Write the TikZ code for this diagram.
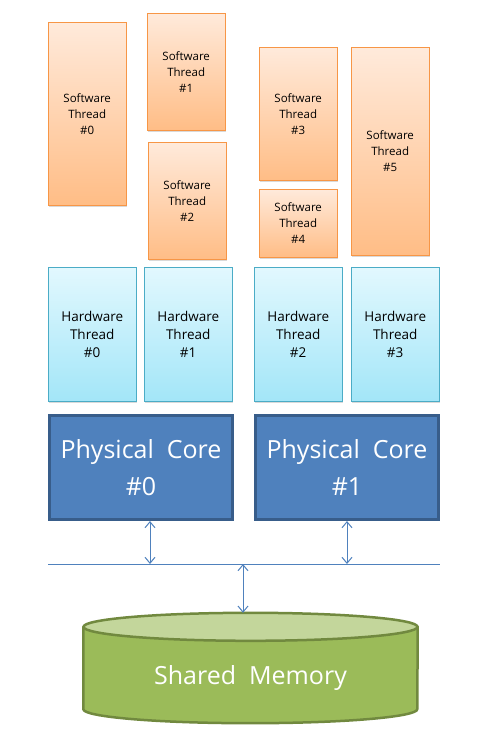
\documentclass[tikz,border=0pt]{standalone}
\usepackage{fontspec}
\setmainfont{Open Sans}
\usetikzlibrary{arrows.meta,shadows,backgrounds}

\definecolor{swline}{HTML}{F79646}
\definecolor{swtop}{HTML}{FFEADB}
\definecolor{swbot}{HTML}{FFBD86}
\definecolor{hwline}{HTML}{4BACC6}
\definecolor{hwtop}{HTML}{E2F8FE}
\definecolor{hwbot}{HTML}{A3E6F8}
\definecolor{coreline}{HTML}{385D8A}
\definecolor{corefill}{HTML}{4F81BD}
\definecolor{memline}{HTML}{71893F}
\definecolor{membody}{HTML}{9BBB59}
\definecolor{memtopc}{HTML}{C3D69B}

\begin{document}
\begin{tikzpicture}[x=1pt,y=-1pt]
        \useasboundingbox (0,0) rectangle (480,744);
        \tikzstyle{BoxStyle}=[anchor=north west, align=center, inner sep=0pt,
          drop shadow={shadow xshift=1pt, shadow yshift=-2pt, opacity=0.3}]
        \tikzstyle{SwStyle}=[BoxStyle, draw=swline, top color=swtop, bottom color=swbot,
          font=\fontsize{11.5}{16}\selectfont, minimum width=78pt]
        \tikzstyle{HwStyle}=[BoxStyle, draw=hwline, top color=hwtop, bottom color=hwbot,
          font=\fontsize{13.5}{18}\selectfont, minimum width=88pt, minimum height=134pt]
        \tikzstyle{CoreStyle}=[anchor=north west, align=center, inner sep=0pt,
          draw=coreline, line width=3pt, fill=corefill, text=white,
          font=\fontsize{25}{37}\selectfont, minimum width=183pt, minimum height=104pt]
        \tikzstyle{MemStyle}=[draw=memline, line width=2.5pt, line join=round]
        \tikzstyle{BusStyle}=[draw=corefill, line width=1pt]
        \tikzstyle{LinkStyle}=[BusStyle, {Straight Barb[length=6pt,width=10pt]}-{Straight Barb[length=6pt,width=10pt]}]
        % software threads
        \node[SwStyle, minimum height=183pt] (sw0) at (48,22) {Software\\Thread\\\#0};
        \node[SwStyle, minimum height=117pt] (sw1) at (147,13) {Software\\Thread\\\#1};
        \node[SwStyle, minimum height=117pt] (sw2) at (148,142) {Software\\Thread\\\#2};
        \node[SwStyle, minimum height=133pt] (sw3) at (259,47) {Software\\Thread\\\#3};
        \node[SwStyle, minimum height=68pt] (sw4) at (259,189) {Software\\Thread\\\#4};
        \node[SwStyle, minimum height=208pt] (sw5) at (351,47) {Software\\Thread\\\#5};
        % hardware threads
        \node[HwStyle] (hw0) at (48,267) {Hardware\\Thread\\\#0};
        \node[HwStyle] (hw1) at (144,267) {Hardware\\Thread\\\#1};
        \node[HwStyle] (hw2) at (254,267) {Hardware\\Thread\\\#2};
        \node[HwStyle] (hw3) at (351,267) {Hardware\\Thread\\\#3};
        % physical cores
        \node[CoreStyle] (core0) at (48,414) {Physical\ \ Core\\\#0};
        \node[CoreStyle] (core1) at (254,414) {Physical\ \ Core\\\#1};
        % shared memory
        \node[inner sep=0pt, minimum width=334pt, minimum height=82pt,
          label={[text=white, font=\fontsize{25}{30}\selectfont, yshift=-10pt]center:Shared\ \ Memory}]
          (mem) at (250.5,668) {};
        \coordinate (memtop) at ([yshift=14pt]mem.north);
        \begin{scope}[on background layer]
          \filldraw[MemStyle, fill=membody] (mem.north west) -- (mem.south west)
            arc[start angle=180, end angle=360, x radius=167pt, y radius=14pt]
            -- (mem.north east) -- cycle;
          \filldraw[MemStyle, fill=memtopc] (mem.north) ellipse[x radius=167pt, y radius=14pt];
        \end{scope}
        % bus
        \coordinate (busL) at (48,564);
        \coordinate (busR) at (440,564);
        \coordinate (bus0) at (150,564);
        \coordinate (bus1) at (347,564);
        \coordinate (busM) at (243,564);
        \draw[BusStyle] (busL) -- (busR);
        % links
        \draw[LinkStyle] (bus0 |- core0.south) -- (bus0);
        \draw[LinkStyle] (bus1 |- core1.south) -- (bus1);
        \draw[LinkStyle] (busM) -- (busM |- memtop);
\end{tikzpicture}
\end{document}
